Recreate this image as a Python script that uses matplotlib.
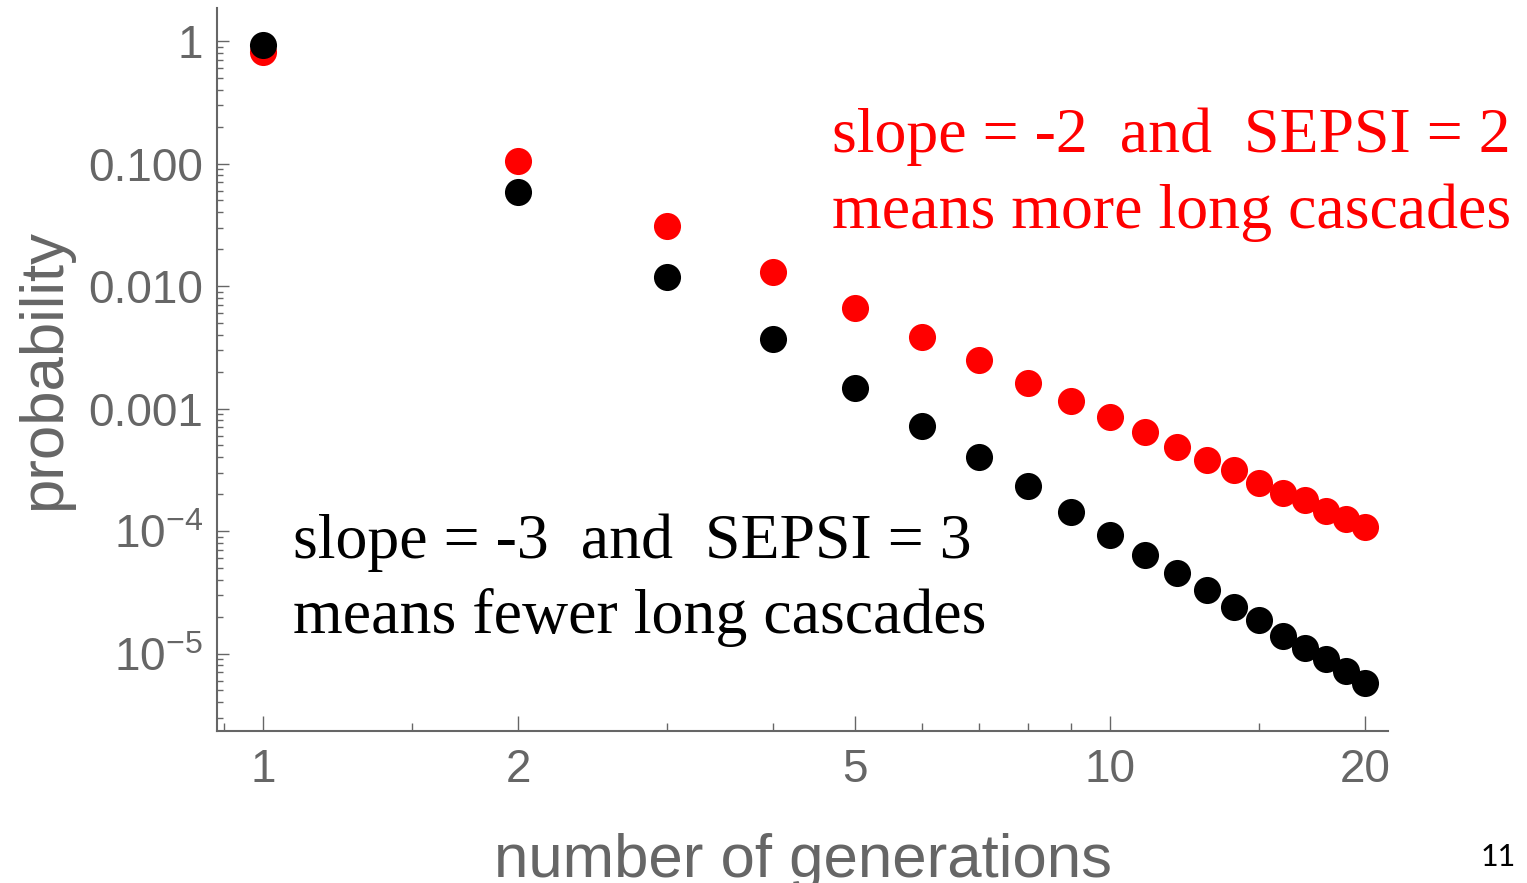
import matplotlib
matplotlib.use("Agg")
import matplotlib.pyplot as plt
from matplotlib.ticker import FixedLocator, FixedFormatter, LogLocator, NullFormatter

# ---- data ----
generations = [1, 2, 3, 4, 5, 6, 7, 8, 9, 10, 11, 12, 13, 14, 15, 16, 17, 18, 19, 20]
prob_slope2 = [0.81, 0.105, 0.031, 0.013, 0.0066, 0.00384, 0.00249, 0.00161, 0.00115,
               0.00085, 0.000643, 0.000485, 0.00038, 0.000315, 0.000247, 0.000204,
               0.000179, 0.000146, 0.000125, 0.000108]
prob_slope3 = [0.93, 0.058, 0.0118, 0.0037, 0.00147, 0.00072, 0.0004, 0.000233, 0.000143,
               9.3e-5, 6.4e-5, 4.5e-5, 3.3e-5, 2.4e-5, 1.88e-5, 1.39e-5, 1.11e-5,
               9.0e-6, 7.2e-6, 5.7e-6]
x_major = [1, 2, 5, 10, 20]
x_major_labels = ["1", "2", "5", "10", "20"]
x_minor = [0.9, 1.5, 3, 4, 6, 7, 8, 9, 15]
y_major = [1, 0.1, 0.01, 0.001, 1e-4, 1e-5]
y_major_labels = ["1", "0.100", "0.010", "0.001",
                  r"$\mathregular{10^{-4}}$", r"$\mathregular{10^{-5}}$"]
text_red = ["slope = -2  and  SEPSI = 2", "means more long cascades"]
text_black = ["slope = -3  and  SEPSI = 3", "means fewer long cascades"]

plt.rcParams["font.family"] = ["Liberation Sans", "DejaVu Sans"]
plt.rcParams["mathtext.fontset"] = "custom"
plt.rcParams["mathtext.rm"] = "Liberation Sans"
plt.rcParams["mathtext.it"] = "Liberation Sans:italic"
plt.rcParams["mathtext.bf"] = "Liberation Sans:bold"

GRAY = "#666666"
W, H = 1527, 883
fig = plt.figure(figsize=(W / 100, H / 100), dpi=100)
ax = fig.add_axes([217 / W, 1 - 731 / H, (1388 - 217) / W, (731 - 8) / H])

ax.plot(generations, prob_slope2, "o", color="#ff0000", markersize=19.5, markeredgewidth=0)
ax.plot(generations, prob_slope3, "o", color="#000000", markersize=19.5, markeredgewidth=0)

ax.set_xscale("log")
ax.set_yscale("log")
ax.set_xlim(0.8824, 21.29)
ax.set_ylim(2.33e-6, 1.86)

ax.xaxis.set_major_locator(FixedLocator(x_major))
ax.xaxis.set_major_formatter(FixedFormatter(x_major_labels))
ax.xaxis.set_minor_locator(FixedLocator(x_minor))
ax.xaxis.set_minor_formatter(NullFormatter())
ax.yaxis.set_major_locator(FixedLocator(y_major))
ax.yaxis.set_major_formatter(FixedFormatter(y_major_labels))
ax.yaxis.set_minor_locator(LogLocator(base=10, subs=range(2, 10), numticks=20))
ax.yaxis.set_minor_formatter(NullFormatter())

for s in ["top", "right"]:
    ax.spines[s].set_visible(False)
for s in ["left", "bottom"]:
    ax.spines[s].set_color(GRAY)
    ax.spines[s].set_linewidth(1.5)

ax.tick_params(axis="x", which="major", direction="in", length=11, width=1, color=GRAY,
               labelsize=33, labelcolor=GRAY, pad=12)
ax.tick_params(axis="x", which="minor", direction="in", length=5.5, width=1, color=GRAY)
ax.tick_params(axis="y", which="major", direction="in", length=8.6, width=1, color=GRAY,
               labelsize=33, labelcolor=GRAY, pad=10)
ax.tick_params(axis="y", which="minor", direction="in", length=4.3, width=1, color=GRAY)

ax.set_xlabel("number of generations", fontsize=44.5, color=GRAY)
ax.xaxis.set_label_coords((803 - 217) / (1388 - 217), -(877 - 731) / (731 - 8))
ax.xaxis.label.set_va("baseline")
ax.set_ylabel("probability", fontsize=44.5, color=GRAY)
ax.yaxis.set_label_coords(-(217 - 45) / (1388 - 217), 0.5)
ax.yaxis.label.set_va("center")

serif = ["Liberation Serif", "DejaVu Serif"]
for txt, yb in zip(text_red, [152, 228]):
    fig.text(832 / W, 1 - yb / H, txt, color="#ff0000", fontsize=46, family=serif, va="baseline")
for txt, yb in zip(text_black, [558, 633]):
    fig.text(293 / W, 1 - yb / H, txt, color="#000000", fontsize=46, family=serif, va="baseline")

fig.text(1516 / W, 1 - 866 / H, "11", color="black", fontsize=22, family=["Lato", "DejaVu Sans"],
         ha="right", va="baseline")

fig.savefig("out.png", dpi=100)
